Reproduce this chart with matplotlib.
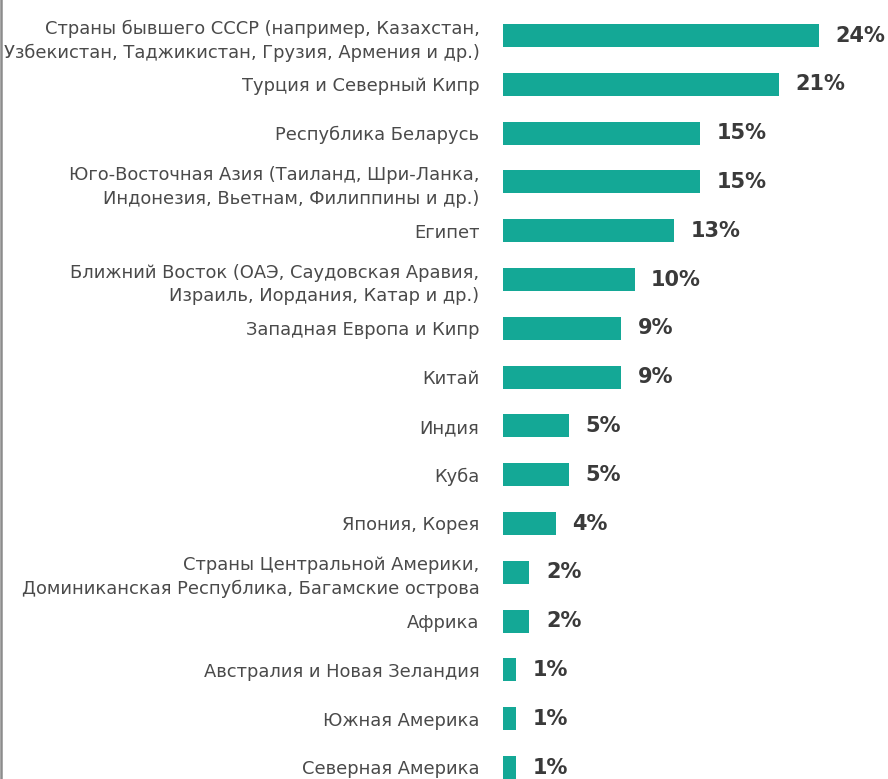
import matplotlib.pyplot as plt
from matplotlib.lines import Line2D

plt.rcParams['font.family'] = ['DejaVu Sans']

regions = [
    'Страны бывшего СССР (например, Казахстан,\nУзбекистан, Таджикистан, Грузия, Армения и др.)',
    'Турция и Северный Кипр',
    'Республика Беларусь',
    'Юго-Восточная Азия (Таиланд, Шри-Ланка,\nИндонезия, Вьетнам, Филиппины и др.)',
    'Египет',
    'Ближний Восток (ОАЭ, Саудовская Аравия,\nИзраиль, Иордания, Катар и др.)',
    'Западная Европа и Кипр',
    'Китай',
    'Индия',
    'Куба',
    'Япония, Корея',
    'Страны Центральной Америки,\nДоминиканская Республика, Багамские острова',
    'Африка',
    'Австралия и Новая Зеландия',
    'Южная Америка',
    'Северная Америка',
]
shares = [24, 21, 15, 15, 13, 10, 9, 9, 5, 5, 4, 2, 2, 1, 1, 1]
value_labels = [f'{v}%' for v in shares]

teal = '#14a896'
dark = '#3a3a3a'

W, H = 888, 779
fig = plt.figure(figsize=(W / 100, H / 100), dpi=100)
x0 = 503
ax = fig.add_axes([x0 / W, 0, 1 - x0 / W, 1])

pos = list(range(len(regions)))
bars = ax.barh(pos, shares, height=0.47, color=teal)
ax.bar_label(bars, labels=value_labels, padding=12, fontsize=15,
             fontweight='bold', color=dark)

step = 48.8
ax.set_ylim((H - 35.5) / step, -35.5 / step)
ax.set_xlim(0, (W - x0) / 13.15)

ax.set_yticks(pos)
ax.set_yticklabels(regions, fontsize=12.9, color='#4a4a4a', linespacing=1.42)
ax.tick_params(axis='y', length=0, pad=17)
ax.set_xticks([])
for s in ax.spines.values():
    s.set_visible(False)

# grey rule at the left edge
fig.add_artist(Line2D([1 / W, 1 / W], [0, 1], color='#8c8c8c', lw=1.8))

fig.savefig('out.png', dpi=100)
